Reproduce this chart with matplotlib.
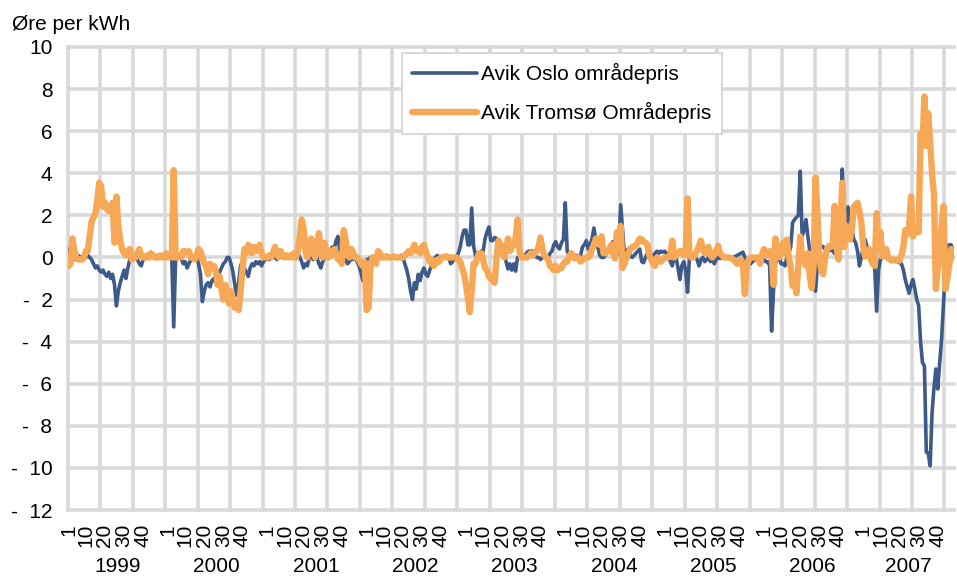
import matplotlib.pyplot as plt
import numpy as np

plt.rcParams['font.family'] = ['Liberation Sans', 'DejaVu Sans']

years = [1999, 2000, 2001, 2002, 2003, 2004, 2005, 2006, 2007]
week_labels = [1, 10, 20, 30, 40]
y_ticks = list(range(-12, 11, 2))

# Avik Oslo områdepris, one value per week
oslo_1999 = [0.4, 0.1, 0.0, -0.1, 0.0, 0.1, 0.0, 0.0, 0.1, 0.0,
             0.1, 0.0, -0.1, -0.3, -0.5, -0.4, -0.6, -0.7, -0.6, -0.8,
             -0.9, -0.7, -1.0, -0.8, -1.3, -2.3, -1.6, -1.2, -0.9, -0.6,
             -1.0, -0.5, -0.1, 0.0, 0.0, 0.0, -0.1, -0.3, -0.4, -0.1,
             0.0, 0.0, 0.1, 0.0, 0.0, 0.0, 0.1, 0.0, 0.0, 0.0, 0.1, 0.0]
oslo_2000 = [0.0, 0.0, -0.1, -3.3, -0.1, 0.0, 0.0, -0.1, -0.3, -0.2,
             -0.5, -0.3, -0.1, 0.0, 0.0, 0.0, -0.3, -0.8, -2.1, -1.6,
             -1.3, -1.2, -1.4, -1.1, -1.0, -1.2, -1.0, -0.7, -0.5, -0.3,
             -0.2, 0.0, 0.0, -0.3, -0.7, -1.3, -1.8, -1.2, -0.4, -0.2,
             -0.5, -0.7, -0.9, -0.5, -0.3, -0.4, -0.2, -0.3, -0.2, -0.4, -0.2, -0.1]
oslo_2001 = [0.0, -0.1, 0.0, 0.1, 0.0, -0.1, 0.0, 0.1, 0.0, 0.0,
             0.0, 0.1, 0.0, 0.1, 0.0, 0.1, 0.2, 0.0, -0.2, -0.5,
             -0.3, -0.4, 0.0, 0.2, -0.1, 0.1, 0.0, -0.3, -0.5, -0.2,
             0.0, 0.2, 0.1, 0.3, 0.5, 0.4, 0.8, 1.0, 0.3, 0.0,
             -0.2, -0.1, -0.3, -0.2, 0.0, -0.1, 0.0, -0.2, -0.4, -0.7, -1.1, -0.3]
oslo_2002 = [-0.1, -0.1, 0.0, 0.0, -0.1, 0.0, 0.0, 0.1, 0.0, 0.0,
             0.0, 0.1, 0.0, 0.0, 0.1, 0.0, 0.0, 0.0, 0.1, 0.0,
             -0.3, -0.6, -1.0, -1.6, -2.0, -1.2, -1.5, -0.8, -1.1, -0.7,
             -0.5, -0.8, -0.9, -0.6, -0.4, -0.1, 0.0, 0.1, 0.0, 0.0,
             0.0, 0.0, 0.1, 0.0, -0.3, -0.2, 0.0, 0.0, 0.2, 0.5, 1.0, 1.3]
oslo_2003 = [1.3, 0.6, 0.6, 2.35, 0.55, 0.1, 0.2, 0.2, 0.3, 0.3,
             0.9, 1.2, 1.45, 0.8, 0.8, 0.95, 0.9, 0.35, 0.5, 0.6,
             0.2, -0.2, -0.55, -0.3, -0.6, -0.3, -0.65, 0.0, 0.0, 0.1,
             0.0, 0.1, 0.25, 0.3, 0.3, 0.3, 0.1, 0.0, 0.0, -0.1,
             0.0, 0.0, 0.05, 0.0, 0.2, 0.3, 0.6, 0.75, 0.5, 0.4, 0.7, 0.85]
oslo_2004 = [2.6, 0.3, 0.1, 0.0, 0.1, 0.0, 0.1, 0.05, 0.1, 0.5,
             0.6, 0.8, 0.4, 0.6, 0.9, 1.4, 0.8, 0.5, 0.1, 0.0,
             0.0, 0.1, 0.3, 0.5, 0.6, 0.75, 0.3, 0.1, 0.6, 2.5,
             1.3, 0.1, 0.3, 0.4, 0.1, 0.0, 0.1, 0.2, 0.3, 0.4,
             -0.2, -0.25, 0.0, 0.2, 0.3, 0.1, 0.0, 0.2, 0.3, 0.2, 0.3, 0.25]
oslo_2005 = [0.3, 0.2, 0.0, -0.2, -0.4, 0.0, 0.0, -0.5, -1.05, -0.4,
             -0.2, -0.6, -1.65, 0.0, 0.0, 0.05, 0.0, -0.1, -0.4, -0.1,
             0.0, -0.2, -0.1, 0.0, -0.2, -0.1, -0.3, -0.1, 0.0, -0.05,
             0.0, 0.0, -0.05, 0.0, 0.0, 0.0, 0.0, 0.05, 0.1, 0.15,
             0.2, 0.25, 0.0, -0.15, -0.2, -0.3, -0.2, -0.1, -0.1, 0.0, -0.3, -0.2]
oslo_2006 = [-0.1, -0.2, -0.2, -0.4, -3.5, -1.6, -0.3, -0.1, 0.0, -0.3,
             -0.3, -0.4, 0.0, 0.2, 0.5, 1.65, 1.8, 1.9, 2.0, 4.1,
             1.0, 1.3, 1.8, 1.0, 0.3, -0.4, -1.0, -1.6, -0.4, 0.3,
             0.55, 0.5, 0.4, 0.4, 0.3, 0.5, 0.3, 0.2, 0.6, 1.0,
             1.8, 4.2, 2.1, 1.0, 2.4, 1.8, 1.5, 0.85, 0.7, 0.3, -0.4, 0.0]
oslo_2007 = [0.5, 0.85, 0.5, 0.2, 0.0, 0.0, -0.55, -2.55, -0.6, -0.1,
             0.0, 0.05, 0.0, -0.1, -0.1, -0.05, -0.1, -0.15, -0.2, -0.25,
             -0.3, -0.6, -1.05, -1.4, -1.7, -1.3, -1.05, -1.5, -2.0, -2.3,
             -4.0, -5.0, -5.15, -9.25, -9.3, -9.9, -7.4, -6.2, -5.3, -6.25,
             -5.0, -3.9, -2.2, -0.7, 0.55, 0.6, 0.6, 0.3]

# Avik Tromsø Områdepris, one value per week
tromso_1999 = [-0.4, -0.3, 0.9, 0.3, 0.0, -0.1, -0.1, -0.1, 0.0, 0.3,
               0.3, 1.0, 1.7, 1.9, 2.1, 2.7, 3.55, 3.4, 2.4, 2.6,
               2.3, 2.2, 2.4, 2.6, 0.7, 2.9, 1.5, 0.8, 0.4, 0.2,
               0.1, 0.3, 0.4, -0.1, 0.0, 0.0, 0.2, 0.4, 0.1, 0.0,
               0.0, 0.1, 0.0, 0.2, 0.1, 0.0, 0.0, 0.0, 0.1, 0.0, 0.0, 0.2]
tromso_2000 = [0.0, 0.1, 0.0, 4.15, 0.0, 0.0, 0.1, 0.0, 0.3, 0.3,
               0.2, 0.3, 0.0, 0.0, -0.1, 0.1, 0.4, 0.3, 0.0, -0.3,
               -0.4, -0.8, -0.3, -0.5, -0.4, -0.6, -1.3, -0.9, -1.5, -2.0,
               -1.3, -1.8, -2.2, -1.6, -2.0, -2.4, -2.2, -2.5, -1.6, -0.6,
               0.4, 0.2, 0.6, 0.5, 0.2, 0.5, 0.3, 0.4, 0.6, 0.2, 0.0, 0.0]
tromso_2001 = [0.0, 0.1, 0.0, 0.2, 0.5, 0.2, 0.0, 0.3, 0.1, 0.0,
               0.1, 0.0, 0.1, 0.0, 0.2, 0.0, 0.3, 1.0, 1.8, 1.4,
               0.3, 0.0, 0.6, 0.9, 0.3, 0.0, 0.6, 1.15, 0.5, 0.0,
               0.7, 0.3, 0.0, 0.3, 0.1, 0.4, 0.2, -0.1, 0.0, -0.3,
               1.3, 0.8, 0.3, 0.0, 0.4, 0.2, 0.0, 0.0, -0.1, -0.3, -0.4, -0.2]
tromso_2002 = [-2.5, -2.4, -0.5, 0.0, 0.0, -0.3, 0.3, 0.2, 0.0, 0.0,
               0.05, 0.0, 0.0, 0.0, 0.05, 0.0, 0.0, 0.0, 0.0, 0.0,
               0.1, 0.2, 0.3, 0.2, 0.4, 0.6, 0.3, 0.4, 0.2, 0.5,
               0.6, 0.3, 0.0, -0.2, -0.1, -0.4, -0.3, -0.1, -0.2, 0.0,
               0.0, 0.05, 0.0, 0.0, 0.0, 0.0, 0.0, 0.0, -0.1, -0.2, -0.5, -0.8]
tromso_2003 = [-1.3, -1.9, -2.6, -1.6, -0.3, -0.3, 0.0, 0.2, 0.2, -0.1,
               -0.5, -0.6, -0.9, -1.0, -1.1, -1.2, 0.0, 0.8, 0.6, 0.3,
               0.0, 0.4, 0.9, 0.3, 0.5, 0.6, 0.9, 1.8, 0.3, 0.0,
               0.0, 0.0, 0.0, 0.1, 0.2, 0.1, 0.2, 0.3, 0.5, 0.95,
               0.4, 0.1, 0.0, -0.1, -0.4, -0.5, -0.6, -0.4, -0.6, -0.5, -0.5, -0.3]
tromso_2004 = [-0.2, -0.2, 0.0, 0.2, 0.1, -0.05, 0.0, 0.0, -0.2, -0.1,
               -0.05, 0.0, 0.0, 0.1, 0.4, 0.6, 0.9, 0.7, 0.6, 1.0,
               0.2, 0.2, 0.3, 0.4, 0.6, 0.2, -0.05, 1.2, 0.9, 1.5,
               -0.5, -0.3, 0.0, 0.2, 0.4, 0.5, 0.5, 0.6, 0.7, 0.9,
               0.85, 0.75, 0.7, 0.6, 0.1, -0.1, -0.3, -0.4, 0.0, -0.1, -0.2, -0.1]
tromso_2005 = [0.0, 0.0, 0.0, 0.1, 0.8, 0.0, 0.1, 0.2, 0.3, 0.3,
               0.1, 0.2, 2.8, 0.1, 0.0, 0.0, 0.2, 0.3, 0.55, 0.8,
               0.4, 0.2, 0.3, 0.5, 0.1, 0.0, 0.15, 0.3, 0.55, 0.2,
               0.1, 0.0, 0.0, 0.0, 0.0, -0.05, -0.1, -0.2, -0.3, -0.2,
               -0.1, -0.4, -1.75, -0.4, -0.1, 0.0, 0.0, 0.0, 0.0, 0.0, -0.3, 0.15]
tromso_2006 = [0.4, 0.2, 0.1, 0.3, 0.2, -1.3, 0.9, 0.3, 0.0, 0.3,
               0.7, 0.2, 0.85, 0.0, -0.4, -1.35, -1.1, -1.7, -0.4, 1.0,
               0.0, -0.2, -0.4, 0.2, -0.9, -1.45, -0.4, 3.8, 2.1, 0.05,
               -0.6, -0.8, 0.0, 0.4, 0.55, 0.5, 0.6, 2.45, 0.5, -0.1,
               1.3, 3.55, 0.5, 1.5, 1.0, 0.85, 1.3, 2.4, 2.5, 2.6, 2.2, 1.65]
tromso_2007 = [0.5, 0.05, 0.2, 0.4, -0.1, -0.3, -0.4, 2.1, 0.4, 1.2,
               0.05, 0.2, 0.4, 0.0, -0.1, -0.15, -0.1, -0.15, -0.1, -0.15,
               0.1, 0.5, 1.3, 1.1, 1.5, 2.9, 1.0, 1.2, 1.3, 1.2,
               5.9, 5.3, 7.65, 5.3, 6.85, 5.5, 4.0, 3.0, -1.5, -0.5,
               0.0, 1.5, 2.45, -1.5, -1.0, -0.4, 0.4, 0.0]

oslo_years = [oslo_1999, oslo_2000, oslo_2001, oslo_2002, oslo_2003,
              oslo_2004, oslo_2005, oslo_2006, oslo_2007]
tromso_years = [tromso_1999, tromso_2000, tromso_2001, tromso_2002, tromso_2003,
                tromso_2004, tromso_2005, tromso_2006, tromso_2007]

oslo = np.concatenate(oslo_years)
tromso = np.concatenate(tromso_years)
n = len(oslo)
x = np.arange(n)
starts = np.cumsum([0] + [len(v) for v in oslo_years])

fs = 15
W, H = 957, 578
fig = plt.figure(figsize=(W / 100, H / 100), dpi=100)
ax = fig.add_axes([67.7 / W, 1 - 510 / H, (954 - 67.7) / W, (510 - 47) / H])

grid_c = '#D9D9D9'
ax.plot(x, oslo, color='#3D5A89', lw=2.6, solid_joinstyle='round',
        solid_capstyle='round', label='Avik Oslo områdepris', zorder=3)
ax.plot(x, tromso, color='#F7A857', lw=4.6, solid_joinstyle='round',
        solid_capstyle='round', label='Avik Tromsø Områdepris', zorder=4)

ax.set_xlim(-0.5, n - 0.5)
ax.set_ylim(-12, 10)
for s in ax.spines.values():
    s.set_visible(False)

# gridlines: every 2 øre, and every 17 weeks (Excel tick interval)
for yv in y_ticks:
    ax.axhline(yv, color=grid_c, lw=2.6, zorder=0, clip_on=False)
for xv in np.arange(-0.5, n, 17):
    ax.axvline(xv, color=grid_c, lw=2.6, zorder=0, clip_on=False)

ax.set_yticks(y_ticks)
ax.set_yticklabels([str(v) if v >= 0 else '-  %d' % -v for v in y_ticks])

# week ticks 1, 10, 20, 30, 40 in every year
pos, lab = [], []
for k, yr in enumerate(years):
    for w in week_labels:
        if w <= len(oslo_years[k]):
            pos.append(starts[k] + w - 1)
            lab.append(str(w))
ax.set_xticks(pos)
ax.set_xticklabels(lab, rotation=90)

ax.tick_params(axis='both', which='both', length=0, labelsize=fs)
ax.tick_params(axis='y', pad=11)
ax.tick_params(axis='x', pad=10)

for k, yr in enumerate(years):
    c = (starts[k] + starts[k + 1] - 1) / 2
    ax.text(c, -0.121, str(yr), transform=ax.get_xaxis_transform(),
            ha='center', va='center', fontsize=fs)

fig.text(12 / W, 1 - 25 / H, 'Øre per kWh', ha='left', va='center', fontsize=fs)

leg = ax.legend(loc='upper left', bbox_to_anchor=(0.377, 0.987), fontsize=fs,
                frameon=True, fancybox=False, edgecolor=grid_c, framealpha=1,
                borderpad=0.5, handlelength=3.1, handletextpad=0.2,
                labelspacing=0.85, borderaxespad=0)
leg.get_frame().set_linewidth(1.5)
leg.set_zorder(5)

fig.savefig('out.png', dpi=100)
